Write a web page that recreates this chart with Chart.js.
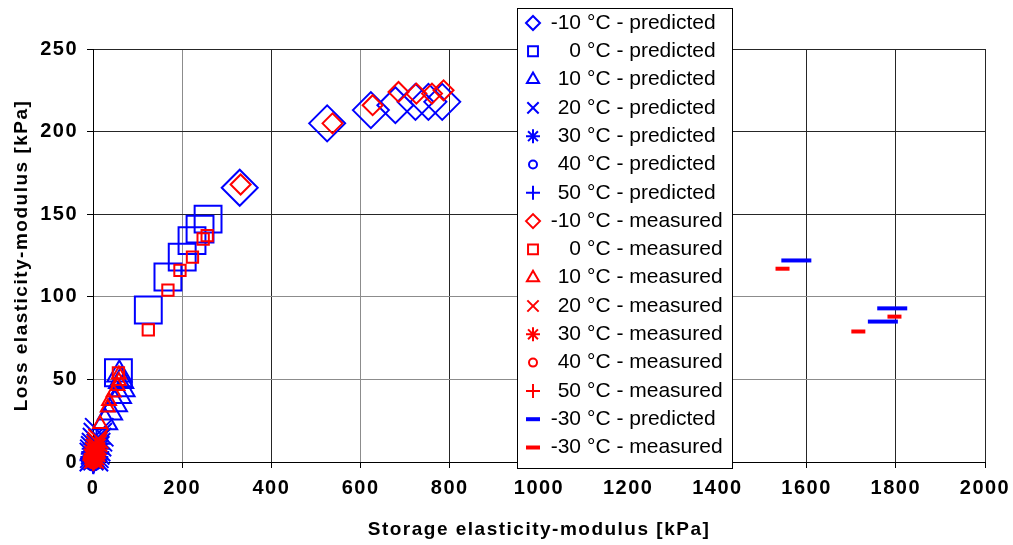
<!DOCTYPE html>
<html>
<head>
<meta charset="utf-8">
<title>Storage vs loss elasticity modulus</title>
<script src="https://cdn.jsdelivr.net/npm/chart.js@4.4.1/dist/chart.umd.min.js"></script>
<style>
  html, body { margin: 0; padding: 0; background: #fff; }
  canvas { display: block; }
</style>
</head>
<body>
<canvas id="modChart" width="1013" height="545"></canvas>
<script>
// [storage modulus, loss modulus] in kPa, one list per temperature
const predM10 = [[329, 166], [525, 205], [623, 213], [678, 216], [723, 218], [752, 218], [783, 218]];
const pred0 = [[57, 54], [124, 92], [168, 112], [200, 124], [222, 134], [240, 141], [258, 147]];
const pred10 = [[59, 53], [63, 49], [66, 44], [58, 40], [49, 35], [38, 30], [27, 24]];
const pred20 = [[14, 18], [11, 15], [9, 12], [7, 9], [5, 7], [3, 5], [2, 3]];
const pred30 = [[8, 11], [6, 8], [5, 6], [4, 5], [3, 3], [2, 2], [1, 1]];
const pred40 = [[4, 5], [3, 4], [2, 3], [1.5, 2], [1, 1], [0.6, 0.6], [0.3, 0.3]];
const pred50 = [[2, 2.5], [1.5, 2], [1, 1.4], [0.7, 1], [0.5, 0.6], [0.3, 0.4], [0.2, 0.2]];

const measM10 = [[331, 168], [537, 205], [627, 216], [685, 224], [725, 223], [760, 223], [786, 225]];
const meas0 = [[57, 54], [124, 80], [168, 104], [195, 116], [223, 124], [247, 135], [256, 137]];
const meas10 = [[58, 53], [58, 49], [55, 46], [46, 42], [36, 37], [33, 33], [16, 23]];
const meas20 = [[12, 14], [10, 12], [8, 10], [6, 8], [5, 6], [3, 4], [2, 2]];
const meas30 = [[7, 9], [6, 7], [4, 5], [3, 4], [2, 3], [1.5, 2], [1, 1]];
const meas40 = [[4, 4], [3, 3.5], [2, 2.5], [1.5, 2], [1, 1.2], [0.6, 0.7], [0.3, 0.4]];
const meas50 = [[2, 2], [1.5, 1.6], [1, 1.2], [0.7, 0.9], [0.5, 0.6], [0.3, 0.3], [0.2, 0.2]];

const predM30 = [[1577, 122], [1792, 93], [1771, 85]];
const measM30 = [[1546, 117], [1797, 88], [1716, 79]];

const xTicks = [0, 200, 400, 600, 800, 1000, 1200, 1400, 1600, 1800, 2000];
const yTicks = [0, 50, 100, 150, 200, 250];

const blue = "#0000ff";
const red = "#ff0000";
const fontFamily = "'Liberation Sans', Arial, sans-serif";

// marker size used in the legend box, per point style
const legendSize = { rectRot: 7, rect: 7, triangle: 7, crossRot: 8, star: 7, circle: 4, cross: 7, line: 7 };

function series(label, points, color, style, radius, width, order) {
    return {
        label: label,
        data: points.map(function (p) { return { x: p[0], y: p[1] }; }),
        pointStyle: style,
        pointRadius: radius,
        pointHoverRadius: radius,
        pointBorderColor: color,
        pointBackgroundColor: "rgba(0,0,0,0)",
        pointBorderWidth: width,
        showLine: false,
        clip: false,
        order: order
    };
}

const datasets = [
    series("-10 °C - predicted", predM10, blue, "rectRot", 18, 2, 2),
    series("0 °C - predicted", pred0, blue, "rect", 19, 2, 2),
    series("10 °C - predicted", pred10, blue, "triangle", 14, 2, 2),
    series("20 °C - predicted", pred20, blue, "crossRot", 20, 2, 2),
    series("30 °C - predicted", pred30, blue, "star", 14, 2, 2),
    series("40 °C - predicted", pred40, blue, "circle", 9, 2, 2),
    series("50 °C - predicted", pred50, blue, "cross", 12, 2, 2),
    series("-10 °C - measured", measM10, red, "rectRot", 10, 2, 1),
    series("0 °C - measured", meas0, red, "rect", 8, 2, 1),
    series("10 °C - measured", meas10, red, "triangle", 8, 2, 1),
    series("20 °C - measured", meas20, red, "crossRot", 14, 2, 1),
    series("30 °C - measured", meas30, red, "star", 11, 2, 1),
    series("40 °C - measured", meas40, red, "circle", 7, 2, 1),
    series("50 °C - measured", meas50, red, "cross", 9, 2, 1),
    series("-30 °C - predicted", predM30, blue, "line", 15, 4, 2),
    series("-30 °C - measured", measM30, red, "line", 7, 4, 1)
];

// axis text is drawn slightly spaced out
const spacedText = {
    id: "spacedText",
    beforeDraw: function (chart) {
        if ("letterSpacing" in chart.ctx) {
            chart.ctx.letterSpacing = "1.5px";
        }
    }
};

// boxed legend sitting over the plot, number column right-aligned
const legendBox = {
    id: "legendBox",
    afterDraw: function (chart) {
        const ctx = chart.ctx;
        ctx.save();
        if ("letterSpacing" in ctx) {
            ctx.letterSpacing = "0px";
        }
        ctx.fillStyle = "#fff";
        ctx.fillRect(517, 8, 215, 460);
        ctx.strokeStyle = "#000";
        ctx.lineWidth = 1;
        ctx.strokeRect(517.5, 8.5, 215, 460);
        ctx.font = "21px " + fontFamily;
        ctx.textBaseline = "middle";
        chart.data.datasets.forEach(function (ds, i) {
            const y = 23 + i * 28.3;
            const bw = ds.pointStyle === "line" ? 4 : 2;
            ctx.strokeStyle = ds.pointBorderColor;
            ctx.fillStyle = "rgba(0,0,0,0)";
            ctx.lineWidth = bw;
            Chart.helpers.drawPoint(ctx, {
                pointStyle: ds.pointStyle,
                radius: legendSize[ds.pointStyle],
                rotation: 0,
                borderWidth: bw
            }, 533, y);
            const parts = ds.label.split(" °C");
            ctx.fillStyle = "#000";
            ctx.textAlign = "right";
            ctx.fillText(parts[0], 581, y);
            ctx.textAlign = "left";
            ctx.fillText("°C" + parts[1], 587, y);
        });
        ctx.restore();
    }
};

function gridColor(light) {
    return function (c) {
        return light.indexOf(c.tick ? c.tick.value : -1) >= 0 ? "#8c8c8c" : "#262626";
    };
}

function plainNumber(v) {
    return String(v);
}

new Chart(document.getElementById("modChart").getContext("2d"), {
    type: "scatter",
    data: { datasets: datasets },
    options: {
        responsive: false,
        animation: false,
        devicePixelRatio: 1,
        layout: { padding: { top: 49, right: 28, left: 0, bottom: 0 } },
        plugins: {
            legend: { display: false },
            tooltip: { enabled: false }
        },
        scales: {
            x: {
                type: "linear",
                min: xTicks[0],
                max: xTicks[xTicks.length - 1],
                afterBuildTicks: function (s) { s.ticks = xTicks.map(function (v) { return { value: v }; }); },
                afterFit: function (s) {
                    s.height = 83;
                    // end labels may hang past the plot edges
                    s.paddingLeft = 0;
                    s.paddingRight = 0;
                },
                grid: { color: gridColor([200, 600]), tickColor: "#000", tickLength: 6, lineWidth: 1 },
                border: { display: true, color: "#000", width: 1 },
                ticks: {
                    color: "#000",
                    padding: 8,
                    maxRotation: 0,
                    callback: plainNumber,
                    font: { family: fontFamily, size: 20, weight: "bold" }
                },
                title: {
                    display: true,
                    text: "Storage elasticity-modulus [kPa]",
                    color: "#000",
                    padding: { top: 0, bottom: 4 },
                    font: { family: fontFamily, size: 19, weight: "bold" }
                }
            },
            y: {
                type: "linear",
                min: yTicks[0],
                max: yTicks[yTicks.length - 1],
                afterBuildTicks: function (s) { s.ticks = yTicks.map(function (v) { return { value: v }; }); },
                afterFit: function (s) { s.width = 93; },
                grid: { color: gridColor([50, 100]), tickColor: "#000", tickLength: 6, lineWidth: 1 },
                border: { display: true, color: "#000", width: 1 },
                ticks: {
                    color: "#000",
                    padding: 9,
                    callback: plainNumber,
                    font: { family: fontFamily, size: 20, weight: "bold" }
                },
                title: {
                    display: true,
                    text: "Loss elasticity-modulus [kPa]",
                    color: "#000",
                    padding: { top: 10, bottom: 0 },
                    font: { family: fontFamily, size: 19, weight: "bold" }
                }
            }
        }
    },
    plugins: [spacedText, legendBox]
});
</script>
</body>
</html>
